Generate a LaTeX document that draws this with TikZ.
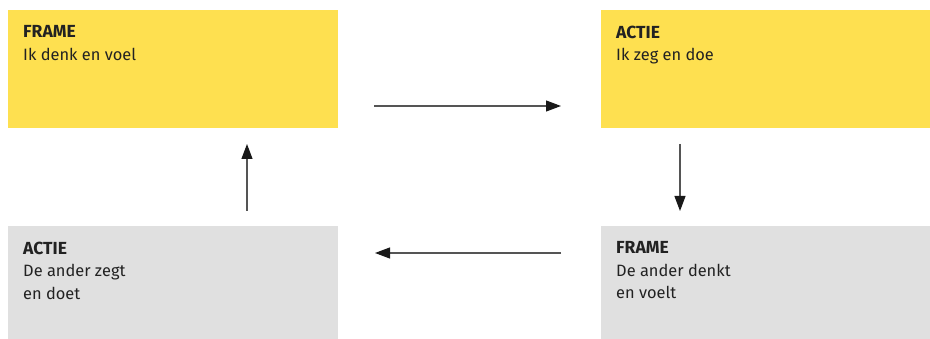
\documentclass[tikz,border=0pt]{standalone}
\usepackage{fontspec}
\setmainfont{Fira Sans}
\usetikzlibrary{arrows.meta}
\definecolor{yel}{HTML}{FEE050}
\definecolor{gry}{HTML}{E0E0E0}
\definecolor{ink}{HTML}{222222}
\definecolor{ln}{HTML}{555555}
\newcommand{\hd}[1]{{\fontsize{17.5pt}{22.5pt}\selectfont\bfseries #1}}
\tikzset{
  panel/.style={draw=none,minimum width=330pt,minimum height=118pt,inner sep=0pt,anchor=north west},
  ylw/.style={panel,fill=yel},
  gy/.style={panel,fill=gry,minimum height=113pt},
  txt/.style={anchor=north west,inner sep=0pt,align=left,text=ink,font=\fontsize{16.4pt}{22.5pt}\selectfont},
  arr/.style={draw=ln,line width=1.1pt,-{Triangle[length=15pt,width=11pt,color=black!90]}}
}
\begin{document}
\begin{tikzpicture}[x=1pt,y=-1pt]
\useasboundingbox (0,0) rectangle (930,339);
\node[ylw] (tl) at (8,10) {};
\node[ylw] (tr) at (601,10) {};
\node[gy] (bl) at (8,226) {};
\node[gy] (br) at (601,226) {};
\node[txt] (tlt) at (23,25.6) {\hd{FRAME}\\Ik denk en voel};
\node[txt] (trt) at (616,25.6) {\hd{ACTIE}\\Ik zeg en doe};
\node[txt] (blt) at (23,241.6) {\hd{ACTIE}\\De ander zegt\\en doet};
\node[txt] (brt) at (616,241.6) {\hd{FRAME}\\De ander denkt\\en voelt};
\coordinate (a1s) at (374,106);
\coordinate (a1e) at (561,106);
\coordinate (a2s) at (680,144);
\coordinate (a2e) at (680,211);
\coordinate (a3s) at (561,253);
\coordinate (a3e) at (375,253);
\coordinate (a4s) at (247,211);
\coordinate (a4e) at (247,144);
\draw[arr] (a1s) -- (a1e);
\draw[arr] (a2s) -- (a2e);
\draw[arr] (a3s) -- (a3e);
\draw[arr] (a4s) -- (a4e);
\end{tikzpicture}
\end{document}
